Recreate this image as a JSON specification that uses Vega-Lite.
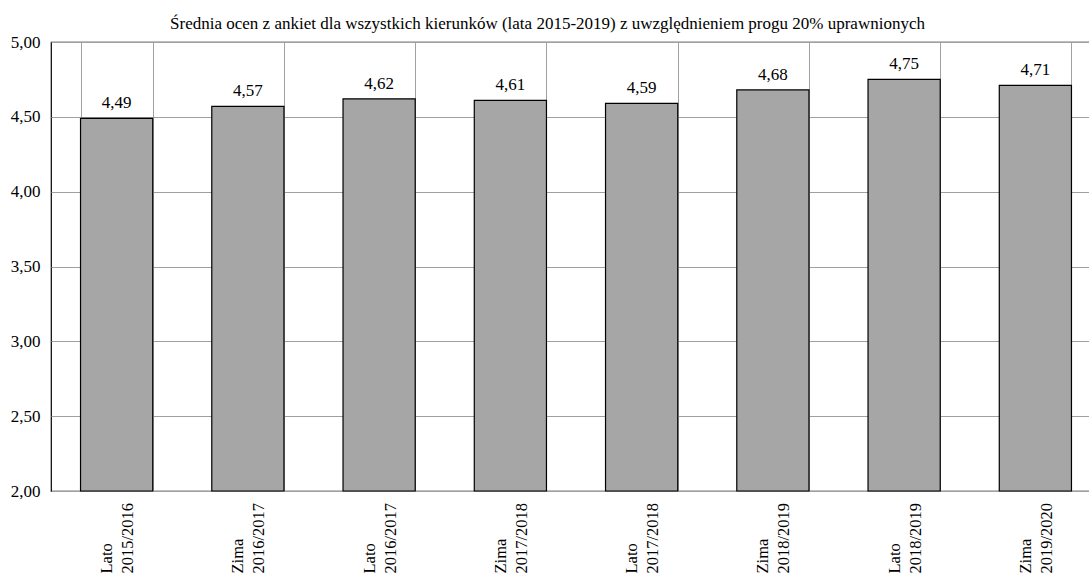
{
  "$schema": "https://vega.github.io/schema/vega-lite/v6.json",
  "autosize": "none",
  "width": 1039,
  "height": 449,
  "padding": {"left": 51, "top": 42, "right": 0, "bottom": 84},
  "background": "white",
  "config": {
    "font": "Liberation Serif",
    "view": {"stroke": "black", "strokeWidth": 1.2},
    "locale": {"number": {"decimal": ",", "thousands": " ", "grouping": [3], "currency": ["", " zł"]}}
  },
  "title": {
    "text": "Średnia ocen z ankiet dla wszystkich kierunków (lata 2015-2019) z uwzględnieniem progu 20% uprawnionych",
    "font": "Liberation Serif",
    "fontSize": 17,
    "fontWeight": "normal",
    "color": "black",
    "offset": 2,
    "dx": -23,
    "dy": 2
  },
  "data": {
    "values": [
      {"okres": "Lato 2015/2016", "srednia": 4.49},
      {"okres": "Zima 2016/2017", "srednia": 4.57},
      {"okres": "Lato 2016/2017", "srednia": 4.62},
      {"okres": "Zima 2017/2018", "srednia": 4.61},
      {"okres": "Lato 2017/2018", "srednia": 4.59},
      {"okres": "Zima 2018/2019", "srednia": 4.68},
      {"okres": "Lato 2018/2019", "srednia": 4.75},
      {"okres": "Zima 2019/2020", "srednia": 4.71}
    ]
  },
  "encoding": {
    "x": {
      "field": "okres",
      "type": "nominal",
      "sort": null,
      "scale": {"range": [0, 1050], "paddingInner": 0.45, "paddingOuter": 0.225},
      "axis": {
        "title": null,
        "tickBand": "extent",
        "grid": true,
        "gridColor": "#a0a0a0",
        "gridWidth": 1,
        "ticks": false,
        "domain": false,
        "labelAngle": -90,
        "labelAlign": "left",
        "labelBaseline": "middle",
        "labelPadding": 82,
        "labelOffset": -10,
        "labelFontSize": 16.5,
        "labelLineHeight": 21,
        "labelColor": "black",
        "labelFont": "Liberation Serif",
        "labelExpr": "split(datum.label, ' ')"
      }
    },
    "y": {
      "field": "srednia",
      "type": "quantitative",
      "scale": {"domain": [2, 5], "nice": false, "zero": false},
      "axis": {
        "title": null,
        "values": [2, 2.5, 3, 3.5, 4, 4.5, 5],
        "format": ".2f",
        "grid": true,
        "gridColor": "#a0a0a0",
        "gridWidth": 1,
        "ticks": false,
        "domain": false,
        "labelPadding": 11,
        "labelFontSize": 17,
        "labelColor": "black",
        "labelFont": "Liberation Serif"
      }
    }
  },
  "layer": [
    {
      "mark": {"type": "bar", "fill": "#a6a6a6", "stroke": "black", "strokeWidth": 1.2},
      "encoding": {"y2": {"datum": 2}}
    },
    {
      "mark": {"type": "text", "baseline": "bottom", "dy": -6, "fontSize": 17, "font": "Liberation Serif", "color": "black"},
      "encoding": {
        "text": {"field": "srednia", "type": "quantitative", "format": ".2f"}
      }
    }
  ]
}
